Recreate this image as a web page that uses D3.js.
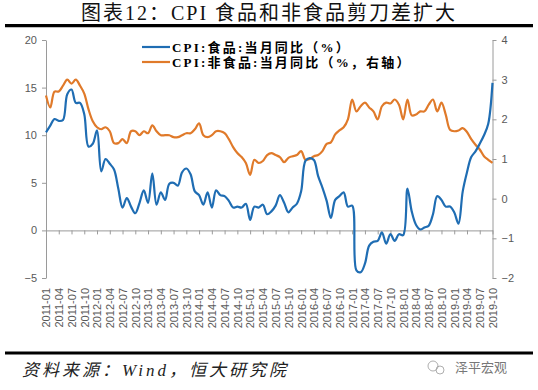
<!DOCTYPE html>
<html>
<head>
<meta charset="utf-8">
<script src="https://cdn.jsdelivr.net/npm/d3@7"></script>
<style>
  body { margin: 0; background: #fff; }
  svg { display: block; }
  .axis path, .axis line { stroke: #9a9a9a; }
  .axis text { fill: #595959; font-family: "Liberation Sans", Arial, sans-serif; font-size: 11px; }
</style>
</head>
<body>
<script>
var W = 538, H = 390;

// months 2011-01 .. 2019-10
var months = d3.timeMonths(new Date(2011, 0, 1), new Date(2019, 10, 1)).map(d3.timeFormat("%Y-%m"));

// CPI 食品 当月同比 (%), left axis
var foodYoY = [
  10.3, 11.0, 11.7, 11.5, 11.6, 14.3, 14.8, 13.4, 13.4, 12.2, 8.8, 9.1,
  10.5, 6.2, 7.5, 7.0, 6.4, 4.4, 2.4, 3.4, 2.5, 1.8, 2.9, 4.2,
  2.9, 6.0, 2.7, 4.0, 3.2, 4.9, 5.0, 4.7, 6.1, 6.5, 5.9, 4.1,
  3.7, 2.7, 4.0, 2.4, 4.2, 3.7, 3.6, 3.1, 2.4, 2.5, 2.4, 2.8,
  1.1, 2.5, 2.4, 2.7, 1.7, 2.0, 2.6, 3.7, 2.9, 1.9, 2.4, 2.8,
  4.1, 7.3, 7.6, 7.4, 5.7, 4.5, 3.1, 1.3, 3.2, 3.6, 4.0, 2.5,
  2.6, -4.2, -4.4, -3.5, -1.6, -1.2, -1.1, -0.2, -1.4, -0.4, -1.1, -0.4,
  -0.5, 4.4, 2.0, 0.6, 0.1, 0.3, 0.5, 1.7, 3.6, 3.2, 2.5, 2.5,
  1.9, 0.7, 4.1, 6.1, 7.7, 8.3, 9.1, 10.0, 11.2, 15.5
];

// CPI 非食品 当月同比 (%), right axis
var nonFoodYoY = [
  2.6, 2.3, 2.7, 2.7, 2.85, 3.0, 2.9, 3.0, 2.85, 2.65, 2.25, 1.95,
  1.8, 1.75, 1.8, 1.7, 1.4, 1.4, 1.5, 1.4, 1.7, 1.7, 1.6, 1.7,
  1.65, 1.85, 1.7, 1.6, 1.6, 1.6, 1.55, 1.55, 1.6, 1.65, 1.65, 1.75,
  1.9, 1.6, 1.55, 1.6, 1.7, 1.7, 1.65, 1.5, 1.3, 1.15, 1.05, 0.9,
  0.6, 0.98, 0.9, 0.95, 1.1, 1.15, 1.1, 1.05, 0.92, 1.03, 1.07, 1.1,
  1.2, 0.98, 1.0, 1.07, 1.1, 1.2, 1.38, 1.42, 1.62, 1.72, 1.8, 2.0,
  2.5, 2.2, 2.33, 2.42, 2.3, 2.2, 2.0, 2.33, 2.42, 2.4, 2.5, 2.37,
  2.0, 2.5, 2.1, 2.12, 2.2, 2.2, 2.37, 2.5, 2.2, 2.42, 2.12, 1.74,
  1.7, 1.72, 1.78, 1.68, 1.5, 1.36, 1.24, 1.07, 0.98, 0.9
];

var leftTicks = [-5, 0, 5, 10, 15, 20];
var rightTicks = [-2, -1, 0, 1, 2, 3, 4];
var xTicks = months.filter(function(d, i) { return i % 3 === 0; });

var seriesNames = ["CPI:食品:当月同比（%）", "CPI:非食品:当月同比（%，右轴）"];
var colors = ["#1f6db3", "#e07a2a"];

var plot = {left: 46, right: 492.5, top: 40, bottom: 278};

var svg = d3.select("body").append("svg")
  .attr("width", W)
  .attr("height", H);

/*Title*/
svg.append("text")
  .attr("x", W / 2)
  .attr("y", 20)
  .attr("text-anchor", "middle")
  .style("font-family", "'Liberation Serif', 'Noto Sans CJK SC', serif")
  .style("font-size", "20px")
  .style("letter-spacing", "2px")
  .style("fill", "#111")
  .text("图表12：CPI 食品和非食品剪刀差扩大");

svg.append("line")
  .attr("x1", 5).attr("x2", 533)
  .attr("y1", 25.7).attr("y2", 25.7)
  .attr("stroke", "#000").attr("stroke-width", 3.2);

/*Scales*/
var xScale = d3.scalePoint()
  .domain(months)
  .range([plot.left, plot.right]);
var yLeft = d3.scaleLinear()
  .domain([-5, 20])
  .range([plot.bottom, plot.top]);
var yRight = d3.scaleLinear()
  .domain([-2, 4])
  .range([plot.bottom, plot.top]);

/*Axes*/
svg.append("g")
  .attr("class", "axis")
  .attr("transform", "translate(" + plot.left + ",0)")
  .call(d3.axisLeft(yLeft).tickValues(leftTicks).tickSize(4).tickSizeOuter(0).tickPadding(5));

svg.append("g")
  .attr("class", "axis")
  .attr("transform", "translate(" + plot.right + ",0)")
  .call(d3.axisRight(yRight).tickValues(rightTicks).tickFormat(d3.format("d"))
    .tickSize(4).tickSizeOuter(0).tickPadding(5));

var x0 = yLeft(0);
var xg = svg.append("g")
  .attr("class", "axis")
  .attr("transform", "translate(0," + x0 + ")")
  .call(d3.axisBottom(xScale).tickValues(xTicks).tickSize(4).tickSizeOuter(0));
xg.selectAll("text")
  .attr("transform", "rotate(-90)")
  .attr("x", -(288 - x0))
  .attr("y", 0)
  .attr("dy", "0.35em")
  .style("text-anchor", "end");

/*Lines*/
var lineFood = d3.line()
  .x(function(d, i) { return xScale(months[i]); })
  .y(function(d) { return yLeft(d); })
  .curve(d3.curveCatmullRom.alpha(0.5));
var lineNonFood = d3.line()
  .x(function(d, i) { return xScale(months[i]); })
  .y(function(d) { return yRight(d); })
  .curve(d3.curveCatmullRom.alpha(0.5));

svg.append("path")
  .datum(nonFoodYoY)
  .attr("fill", "none")
  .attr("stroke", colors[1])
  .attr("stroke-width", 2.2)
  .attr("d", lineNonFood);

svg.append("path")
  .datum(foodYoY)
  .attr("fill", "none")
  .attr("stroke", colors[0])
  .attr("stroke-width", 2.2)
  .attr("d", lineFood);

/*Legend*/
var legend = svg.append("g").attr("transform", "translate(142,47)");
seriesNames.forEach(function(name, i) {
  var g = legend.append("g").attr("transform", "translate(0," + (i * 15) + ")");
  g.append("line")
    .attr("x1", 0).attr("x2", 28)
    .attr("stroke", colors[i]).attr("stroke-width", 2.2);
  g.append("text")
    .attr("x", 30)
    .attr("dy", "0.35em")
    .style("font-family", "'Liberation Serif', 'Noto Sans CJK SC', serif")
    .style("font-weight", "bold")
    .style("font-size", "13px")
    .style("letter-spacing", "2.2px")
    .style("fill", "#000")
    .text(name);
});

/*Footer*/
svg.append("line")
  .attr("x1", 5).attr("x2", 533)
  .attr("y1", 353).attr("y2", 353)
  .attr("stroke", "#000").attr("stroke-width", 3.2);

svg.append("text")
  .attr("x", 22)
  .attr("y", 376)
  .style("font-family", "'Liberation Serif', 'Noto Sans CJK SC', serif")
  .style("font-style", "italic")
  .style("font-size", "17px")
  .style("letter-spacing", "3px")
  .style("fill", "#222")
  .text("资料来源：Wind，恒大研究院");

var wm = svg.append("g").attr("fill", "none").attr("stroke", "#999").attr("stroke-width", 0.8);
wm.append("circle").attr("cx", 433).attr("cy", 366).attr("r", 5);
wm.append("circle").attr("cx", 440).attr("cy", 370).attr("r", 4);

svg.append("text")
  .attr("x", 455)
  .attr("y", 372)
  .style("font-family", "'Noto Sans CJK SC', sans-serif")
  .style("font-size", "13px")
  .style("fill", "#777")
  .text("泽平宏观");
</script>
</body>
</html>
